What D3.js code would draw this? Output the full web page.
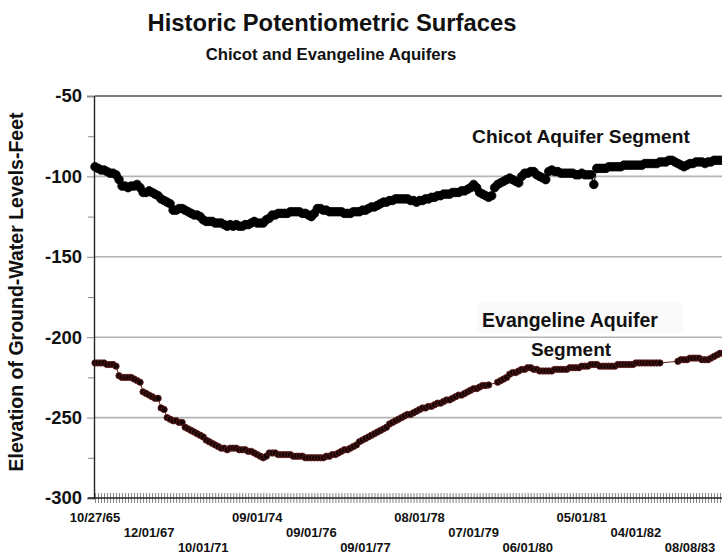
<!DOCTYPE html>
<html><head><meta charset="utf-8">
<script src="https://cdn.jsdelivr.net/npm/d3@7"></script>
<style>html,body{margin:0;padding:0;background:#fff}svg{display:block;font-family:"Liberation Sans",Arial,sans-serif}</style>
</head><body><svg id="c" width="722" height="556"></svg>
<script>
const chicot = [
-94,-95,-96,-96,-97,-98,-98,-99,-102,-106,
-106,-107,-106,-106,-105,-107,-110,-110,-109,-110,
-111,-112,-114,-115,-116,-117,-121,-121,-120,-120,
-121,-122,-123,-124,-124,-125,-127,-128,-128,-128,
-129,-129,-129,-130,-131,-130,-131,-130,-131,-131,
-130,-130,-129,-128,-129,-129,-129,-127,-126,-124,
-124,-123,-123,-123,-123,-122,-122,-122,-122,-123,
-123,-124,-125,-123,-120,-120,-121,-121,-122,-122,
-122,-122,-122,-123,-123,-123,-122,-122,-122,-121,
-121,-120,-119,-119,-118,-117,-116,-116,-115,-115,
-114,-114,-114,-114,-114,-115,-115,-116,-115,-115,
-114,-114,-113,-113,-112,-112,-111,-111,-111,-110,
-110,-110,-109,-109,-108,-107,-105,-107,-110,-111,
-112,-113,-112,-107,-105,-104,-103,-102,-101,-102,
-103,-104,-100,-98,-98,-97,-97,-99,-100,-101,
-102,-97,-96,-97,-97,-98,-98,-98,-98,-98,
-99,-99,-98,-99,-99,-99,-105,-95,-95,-95,
-95,-94,-94,-94,-94,-94,-93,-93,-93,-93,
-93,-93,-93,-92,-92,-92,-92,-92,-91,-91,
-91,-90,-90,-91,-92,-93,-94,-93,-92,-92,
-91,-91,-91,-92,-91,-91,-90,-90,-90,-90];
const evangeline = [
-216,-216,-216,-216,-217,-217,-217,-218,-224,-225,
-225,-225,-225,-226,-227,-228,-234,-235,-236,-237,
-238,-238,-244,-245,-250,-251,-252,-252,-253,-253,
-256,-257,-258,-259,-260,-261,-262,-264,-265,-266,
-267,-268,-269,-269,-270,-269,-269,-269,-270,-270,
-270,-271,-271,-272,-273,-274,-275,-274,-272,-272,
-272,-273,-273,-273,-273,-273,-274,-274,-274,-274,
-275,-275,-275,-275,-275,-275,-275,-274,-274,-273,
-273,-272,-271,-270,-270,-269,-268,-267,-265,-264,
-263,-262,-261,-260,-259,-258,-257,-256,-254,-253,
-252,-251,-250,-249,-248,-248,-247,-246,-245,-244,
-244,-243,-243,-242,-241,-241,-240,-239,-239,-238,
-237,-236,-236,-235,-234,-233,-232,-232,-231,-230,
-230,-229.7,null,null,-228,-227,-226,-225,-223,-222,
-222,-221,-220,-220,-219,-219,-220,-220,-221,-221,
-221,-221,-221,-220,-220,-220,-220,-220,-219,-219,
-219,-219,-218,-218,-218,-217,-217,-217,-218,-218,
-218,-218,-218,-218,-217,-217,-217,-217,-217,-217,
-216,-216,-216,-216,-216,-216,-216,-216,-216,null,
null,null,null,null,-215,-214,-214,-214,-213,-213,
-213,-213,-214,-214,-214,-213,-212,-211,-210,-210];
const tickLabels = ["10/27/65","12/01/67","10/01/71","09/01/74","09/01/76","09/01/77","08/01/78","07/01/79","06/01/80","05/01/81","04/01/82","08/08/83"];
const tickIndex = [0,18,36,54,72,90,108,126,144,162,180,198];
const yTicks = [-300,-250,-200,-150,-100,-50];
const yMinor = [-275,-225,-175,-125,-75];

const svg = d3.select("#c");
const N = chicot.length;
const x = d3.scaleLinear().domain([0, N-1]).range([95, 95 + (N-1)*3.005]);
const y = d3.scaleLinear().domain([-300,-50]).range([498, 96]);

// title
svg.append("text").attr("x",332).attr("y",31).attr("text-anchor","middle")
  .attr("font-size",23.8).attr("font-weight","bold").attr("fill","#111").text("Historic Potentiometric Surfaces");
svg.append("text").attr("x",331).attr("y",60).attr("text-anchor","middle")
  .attr("font-size",16.7).attr("font-weight","bold").attr("fill","#111").text("Chicot and Evangeline Aquifers");

// gridlines
svg.append("g").selectAll("line").data(yTicks.filter(d=>d>-300 && d<-50)).join("line")
  .attr("x1",95).attr("x2",722).attr("y1",d=>y(d)).attr("y2",d=>y(d))
  .attr("stroke","#b4b4b4").attr("stroke-width",1.6);
svg.append("line").attr("x1",95).attr("x2",722).attr("y1",y(-50)).attr("y2",y(-50))
  .attr("stroke","#555").attr("stroke-width",1.4);

// y axis
const yAxis = svg.append("g").attr("transform","translate(94,0)")
  .call(d3.axisLeft(y).tickValues(yTicks).tickSize(7).tickPadding(5).tickFormat(d=>String(d)));
yAxis.select(".domain").attr("stroke","#222").attr("stroke-width",1.4);
yAxis.selectAll(".tick line").attr("stroke","#888");
yAxis.selectAll("text").attr("font-size",18.5).attr("font-weight","bold").attr("fill","#111")
  .attr("font-family","'Liberation Sans',Arial,sans-serif");
svg.append("g").attr("transform","translate(94,0)").call(d3.axisLeft(y).tickValues(yMinor).tickSize(6).tickFormat(""))
  .call(g=>{g.select(".domain").remove(); g.selectAll("line").attr("stroke","#888");});

svg.append("text").attr("transform","translate(23,292) rotate(-90)").attr("text-anchor","middle")
  .attr("font-size",19.5).attr("font-weight","bold").attr("fill","#111").text("Elevation of Ground-Water Levels-Feet");

// x axis
const xAxis = svg.append("g").attr("transform","translate(0,498)")
  .call(d3.axisBottom(x).tickValues(d3.range(N)).tickSize(5).tickFormat(""));
xAxis.select(".domain").remove();
xAxis.selectAll(".tick line").attr("y1",-5).attr("stroke","#777").attr("stroke-width",0.9);
svg.append("line").attr("x1",88).attr("x2",722).attr("y1",498).attr("y2",498).attr("stroke","#222").attr("stroke-width",1.4);
svg.append("g").selectAll("text").data(tickLabels).join("text")
  .attr("x",(d,i)=>x(tickIndex[i])).attr("y",(d,i)=>522 + (i%3)*15)
  .attr("text-anchor","middle").attr("font-size",13).attr("font-weight","bold").attr("fill","#111")
  .text(d=>d);

// series
function drawSeries(vals, lineColor, fill, stroke, r){
  const pts = vals.map((v,i)=>({i,v})).filter(d=>d.v!==null);
  svg.append("path").datum(pts).attr("fill","none").attr("stroke",lineColor).attr("stroke-width",1)
    .attr("d", d3.line().x(d=>x(d.i)).y(d=>y(d.v)));
  svg.append("g").selectAll("circle").data(pts).join("circle")
    .attr("cx",d=>x(d.i)).attr("cy",d=>y(d.v)).attr("r",r)
    .attr("fill",fill).attr("stroke",stroke).attr("stroke-width",0.8);
}
drawSeries(chicot, "#000", "#000", "#000", 4.3);
drawSeries(evangeline, "#6a1a1a", "#150404", "#6b2020", 3.2);

// annotations
svg.append("rect").attr("x",466).attr("y",122).attr("width",232).attr("height",28).attr("fill","#fff");
svg.append("text").attr("x",581).attr("y",143).attr("text-anchor","middle")
  .attr("font-size",19.2).attr("font-weight","bold").attr("fill","#111").text("Chicot Aquifer Segment");
svg.append("rect").attr("x",477).attr("y",303).attr("width",206).attr("height",30).attr("fill","#fafafa");
svg.append("text").attr("x",570).attr("y",327).attr("text-anchor","middle")
  .attr("font-size",19.5).attr("font-weight","bold").attr("fill","#111").text("Evangeline Aquifer");
svg.append("text").attr("x",571).attr("y",356).attr("text-anchor","middle")
  .attr("font-size",19).attr("font-weight","bold").attr("fill","#111").text("Segment");
</script></body></html>
